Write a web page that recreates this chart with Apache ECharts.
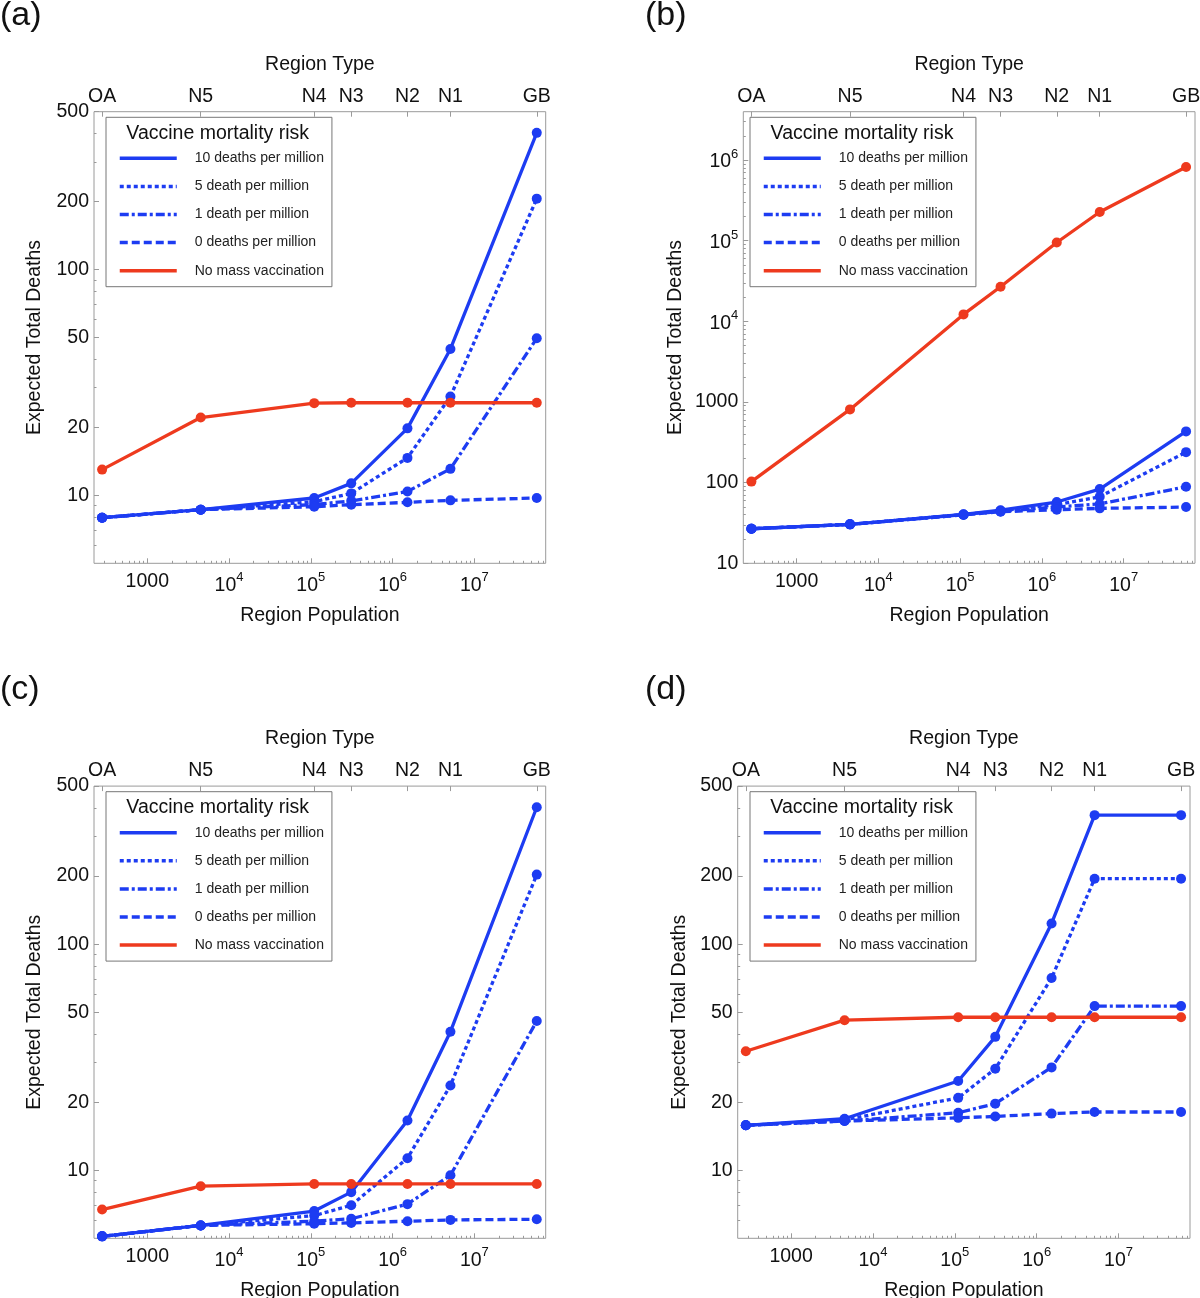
<!DOCTYPE html>
<html>
<head>
<meta charset="utf-8">
<title>Expected total deaths by region type</title>
<script src="https://cdn.jsdelivr.net/npm/echarts@6/dist/echarts.min.js"></script>
<style>
  html, body { margin: 0; padding: 0; background: #fff; }
  #chart { width: 1200px; height: 1298px; }
</style>
</head>
<body>
<div id="chart"></div>
<script>
// region types (top axis) and their populations (bottom axis)
const regionTypes = ['OA', 'N5', 'N4', 'N3', 'N2', 'N1', 'GB']
const regionPopulation = [280, 4500, 110000, 312000, 1520000, 5100000, 58000000]

const seriesNames = [
  '10 deaths per million',
  '5 death per million',
  '1 death per million',
  '0 deaths per million',
  'No mass vaccination'
]

// (a)
const deathsA10 = [7.96, 8.64, 9.73, 11.3, 19.8, 44.5, 403]
const deathsA5 = [7.96, 8.64, 9.37, 10.2, 14.65, 27.4, 206]
const deathsA1 = [7.96, 8.64, 9.1, 9.45, 10.4, 13.1, 49.6]
const deathsA0 = [7.96, 8.64, 8.9, 9.09, 9.31, 9.5, 9.73]
const deathsANone = [13.0, 22.1, 25.6, 25.7, 25.7, 25.7, 25.7]

// (b)
const deathsB10 = [26.8, 30.4, 40.5, 45.5, 57.5, 83.3, 432]
const deathsB5 = [26.8, 30.4, 40.2, 44.8, 53.5, 66.9, 239]
const deathsB1 = [26.8, 30.4, 40, 44, 50, 54.5, 89]
const deathsB0 = [26.8, 30.4, 39.8, 43.5, 46.2, 48, 49.8]
const deathsBNone = [103, 810, 12200, 26900, 95000, 227000, 822000]

// (c)
const deathsC10 = [5.1, 5.7, 6.6, 8.0, 16.6, 41, 403]
const deathsC5 = [5.1, 5.7, 6.3, 7.0, 11.3, 23.7, 203]
const deathsC1 = [5.1, 5.7, 5.95, 6.1, 7.08, 9.5, 45.7]
const deathsC0 = [5.1, 5.7, 5.8, 5.85, 5.95, 6.03, 6.07]
const deathsCNone = [6.7, 8.5, 8.7, 8.7, 8.7, 8.7, 8.7]

// (d)
const deathsD10 = [15.8, 16.9, 24.8, 38.9, 123.5, 372, 372]
const deathsD5 = [15.8, 16.7, 20.9, 28.1, 70.8, 194.7, 194.7]
const deathsD1 = [15.8, 16.5, 17.95, 19.7, 28.5, 53.2, 53.2]
const deathsD0 = [15.8, 16.5, 17.05, 17.3, 17.8, 18.1, 18.1]
const deathsDNone = [33.6, 46.1, 47.5, 47.5, 47.5, 47.5, 47.5]

// tick labels
const xMajorTicks = [1000, 1e4, 1e5, 1e6, 1e7]
const yTicksSmall = [10, 20, 50, 100, 200, 500]
const yTicksLarge = [10, 100, 1000, 1e4, 1e5, 1e6]

// axis ranges
const xMin = 222.8
const xMax = 7.46e7

const FONT = '"Liberation Sans", Arial, Helvetica, sans-serif'
const TEXT = '#111'
const FRAME = '#9a9a9a'
const BLUE = '#1d3cf2'
const RED = '#ee3a1e'

const seriesColors = [BLUE, BLUE, BLUE, BLUE, RED]
const seriesDash = ['solid', [4, 3], [9, 3, 3, 3], [8, 4], 'solid']

const panels = [
  {
    label: '(a)', left: 94, top: 111.7, width: 451.7, height: 451.6,
    yMin: 5, yMax: 500, yTicks: yTicksSmall, yNameGap: 49,
    legendLeft: 106, legendTop: 117.3, titleX: 217.7, titleY: 133.3,
    letterX: 0, letterY: 16,
    deaths: [deathsA10, deathsA5, deathsA1, deathsA0, deathsANone]
  },
  {
    label: '(b)', left: 743.3, top: 111.7, width: 451.7, height: 451.6,
    yMin: 10, yMax: 3.98e6, yTicks: yTicksLarge, yNameGap: 58,
    legendLeft: 750, legendTop: 117.3, titleX: 862, titleY: 133.3,
    letterX: 645, letterY: 16,
    deaths: [deathsB10, deathsB5, deathsB1, deathsB0, deathsBNone]
  },
  {
    label: '(c)', left: 94, top: 786.1, width: 451.7, height: 452.2,
    yMin: 5, yMax: 500, yTicks: yTicksSmall, yNameGap: 49,
    legendLeft: 106, legendTop: 791.7, titleX: 217.7, titleY: 807.7,
    letterX: 0, letterY: 690,
    deaths: [deathsC10, deathsC5, deathsC1, deathsC0, deathsCNone]
  },
  {
    label: '(d)', left: 737.7, top: 786.1, width: 452.3, height: 452.2,
    yMin: 5, yMax: 500, yTicks: yTicksSmall, yNameGap: 48,
    legendLeft: 750, legendTop: 791.7, titleX: 861.7, titleY: 807.2,
    letterX: 645, letterY: 690,
    deaths: [deathsD10, deathsD5, deathsD1, deathsD0, deathsDNone]
  }
]

// minor ticks at 2..9 x 10^k inside (lo, hi), leaving out labelled ones
function minorTicks(lo, hi, skip) {
  const out = []
  for (let k = Math.floor(Math.log10(lo)); k <= Math.ceil(Math.log10(hi)); k++) {
    for (let m = 2; m <= 9; m++) {
      const v = m * Math.pow(10, k)
      if (v > lo && v < hi && skip.indexOf(v) < 0) out.push(v)
    }
  }
  return out
}

function powerLabel(v) {
  if (v <= 1000) return String(Math.round(v))
  return '{b|10}{e|' + Math.round(Math.log10(v)) + '}'
}

function regionLabel(v) {
  let best = 0
  regionPopulation.forEach((p, i) => {
    if (Math.abs(Math.log10(p) - Math.log10(v)) < Math.abs(Math.log10(regionPopulation[best]) - Math.log10(v))) best = i
  })
  return regionTypes[best]
}

const richPow = {
  b: { fontFamily: FONT, fontSize: 19.5, color: TEXT, lineHeight: 24, verticalAlign: 'bottom' },
  e: { fontFamily: FONT, fontSize: 13, color: TEXT, lineHeight: 12, verticalAlign: 'top' }
}
const labelStyle = { fontFamily: FONT, fontSize: 19.5, color: TEXT }
const tickLine = { color: FRAME, width: 1 }

const grid = []
const xAxis = []
const yAxis = []
const series = []
const legend = []
const graphic = []

panels.forEach((p, i) => {
  grid.push({
    left: p.left, top: p.top, width: p.width, height: p.height,
    show: true, borderColor: FRAME, borderWidth: 1,
    containLabel: false, outerBoundsMode: 'none'
  })

  // bottom axis: population
  xAxis.push({
    type: 'log', gridIndex: i, position: 'bottom', min: xMin, max: xMax,
    axisLine: { show: false, onZero: false },
    axisTick: { inside: true, length: 5, customValues: xMajorTicks, lineStyle: tickLine },
    axisLabel: Object.assign({ customValues: xMajorTicks, margin: 8, formatter: powerLabel, rich: richPow }, labelStyle),
    splitLine: { show: false },
    name: 'Region Population', nameLocation: 'middle', nameGap: 42,
    nameTextStyle: labelStyle
  })
  // bottom axis minor ticks
  xAxis.push({
    type: 'log', gridIndex: i, position: 'bottom', min: xMin, max: xMax,
    axisLine: { show: false, onZero: false },
    axisTick: { inside: true, length: 2.5, customValues: minorTicks(xMin, xMax, xMajorTicks), lineStyle: tickLine },
    axisLabel: { show: false },
    splitLine: { show: false }
  })
  // top axis: region type
  xAxis.push({
    type: 'log', gridIndex: i, position: 'top', min: xMin, max: xMax,
    axisLine: { show: false, onZero: false },
    axisTick: { inside: true, length: 5, customValues: regionPopulation, lineStyle: tickLine },
    axisLabel: Object.assign({ customValues: regionPopulation, margin: 5, formatter: regionLabel }, labelStyle),
    splitLine: { show: false },
    name: 'Region Type', nameLocation: 'middle', nameGap: 37,
    nameTextStyle: labelStyle
  })

  yAxis.push({
    type: 'log', gridIndex: i, position: 'left', min: p.yMin, max: p.yMax,
    axisLine: { show: false, onZero: false },
    axisTick: { inside: true, length: 5, customValues: p.yTicks, lineStyle: tickLine },
    axisLabel: Object.assign({ customValues: p.yTicks, margin: 5, formatter: powerLabel, rich: richPow }, labelStyle),
    splitLine: { show: false },
    name: 'Expected Total Deaths', nameLocation: 'middle', nameGap: p.yNameGap,
    nameTextStyle: labelStyle
  })
  yAxis.push({
    type: 'log', gridIndex: i, position: 'left', min: p.yMin, max: p.yMax,
    axisLine: { show: false, onZero: false },
    axisTick: { inside: true, length: 2.5, customValues: minorTicks(p.yMin, p.yMax, p.yTicks), lineStyle: tickLine },
    axisLabel: { show: false },
    splitLine: { show: false }
  })

  p.deaths.forEach((vals, s) => {
    series.push({
      name: seriesNames[s],
      type: 'line',
      xAxisIndex: 3 * i,
      yAxisIndex: 2 * i,
      data: regionPopulation.map((pop, k) => [pop, vals[k]]),
      symbol: 'circle',
      symbolSize: 10,
      lineStyle: { color: seriesColors[s], width: 3.3, type: seriesDash[s], cap: 'butt' },
      itemStyle: { color: seriesColors[s] },
      emphasis: { disabled: true }
    })
  })

  legend.push({
    orient: 'vertical', left: p.legendLeft, top: p.legendTop,
    data: seriesNames, selectedMode: false,
    itemWidth: 57, itemHeight: 14, itemGap: 14.1, align: 'left',
    padding: [34, 8, 9, 12],
    borderColor: '#777', borderWidth: 1, backgroundColor: '#fff',
    itemStyle: { opacity: 0 },
    lineStyle: { width: 3.5 },
    textStyle: { fontFamily: FONT, fontSize: 14, color: '#222', lineHeight: 14, padding: [0, 0, 0, 13] }
  })

  graphic.push({
    type: 'text', x: p.titleX, y: p.titleY, z: 100,
    style: {
      text: 'Vaccine mortality risk', fontFamily: FONT, fontSize: 19.5, fill: TEXT,
      align: 'center', verticalAlign: 'middle', textAlign: 'center', textVerticalAlign: 'middle'
    }
  })
  graphic.push({
    type: 'text', x: p.letterX, y: p.letterY, z: 100,
    style: {
      text: p.label, fontFamily: FONT, fontSize: 34, fill: TEXT,
      align: 'left', verticalAlign: 'middle', textAlign: 'left', textVerticalAlign: 'middle'
    }
  })
})

const chart = echarts.init(document.getElementById('chart'), null, { renderer: 'canvas' })
chart.setOption({
  backgroundColor: '#fff',
  animation: false,
  grid: grid,
  xAxis: xAxis,
  yAxis: yAxis,
  legend: legend,
  graphic: graphic,
  series: series
})
</script>
</body>
</html>
